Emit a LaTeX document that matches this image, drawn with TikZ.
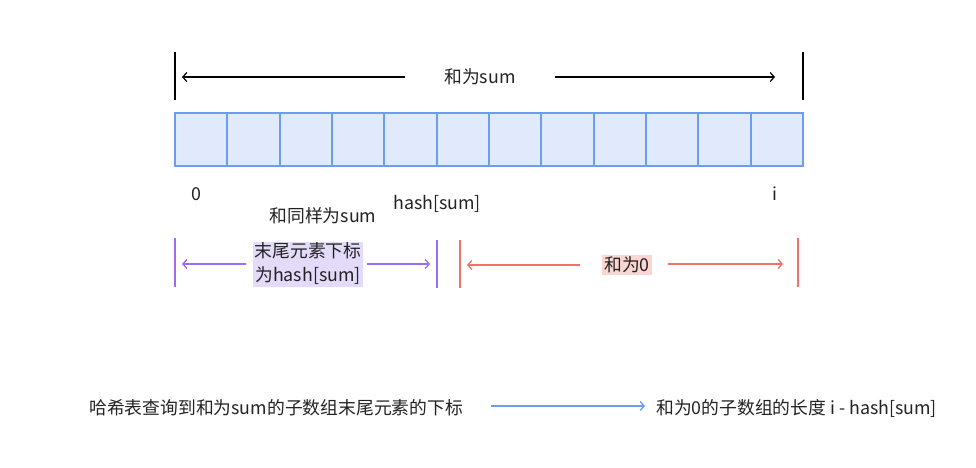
\documentclass[tikz,border=0pt]{standalone}
\usepackage{fontspec}
\setmainfont{Noto Sans CJK SC}
\usetikzlibrary{positioning,arrows.meta}
\definecolor{cellfill}{HTML}{E1E9FC}
\definecolor{celldraw}{HTML}{6E9CF3}
\definecolor{lilac}{HTML}{9C6CF2}
\definecolor{lilacfill}{HTML}{E4DAFA}
\definecolor{salmon}{HTML}{F0736B}
\definecolor{salmonfill}{HTML}{FAD6D2}
\definecolor{ink}{HTML}{222222}
\tikzset{
  cell/.style={draw=celldraw, fill=cellfill, line width=2pt, minimum width=52.33pt, minimum height=53pt, inner sep=0pt},
  label/.style={font=\fontsize{17.8}{24}\selectfont, text=ink, inner sep=1pt},
  tip/.style={-{Straight Barb[length=4pt,width=9pt]}}
}
\begin{document}
\begin{tikzpicture}[x=1pt, y=-1pt]
\useasboundingbox (0,0) rectangle (976,467);
% Array
\foreach \i in {0,...,11}
  \node[cell] (c\i) at ({201.17+52.33*\i},139.5) {};
% Top
\draw[black, line width=1.3pt] (175,52) -- (175,100);
\draw[black, line width=1.3pt] (803,52) -- (803,100);
\node[label] (total) at (480,77) {和为sum};
\coordinate (tl) at (405,77);
\coordinate (tle) at (182,77);
\coordinate (tr) at (555,77);
\coordinate (tre) at (775,77);
\draw[tip, line width=1.2pt] (tl) -- (tle);
\draw[tip, line width=1.2pt] (tr) -- (tre);
% Indices
\node[label] (zero) at (196,194) {0};
\node[label] (hash) at (437,204) {hash[sum]};
\node[label] (idx) at (775,194) {i};
\node[label] (same) at (323,216) {和同样为sum};
% Purple part
\draw[lilac, line width=1.3pt] (175,238) -- (175,287);
\draw[lilac, line width=1.3pt] (437,240) -- (437,288);
\node[label, fill=lilacfill, align=center, inner sep=1.5pt] (tail) at (308,264) {末尾元素下标\\为hash[sum]};
\coordinate (pl) at (182,264);
\coordinate (pr) at (430,264);
\draw[tip, lilac, line width=1.3pt] (tail.west |- pl) ++(-7,0) -- (pl);
\draw[tip, lilac, line width=1.3pt] (tail.east |- pr) ++(4,0) -- (pr);
% Red part
\draw[salmon, line width=1.3pt] (460,240) -- (460,288);
\draw[salmon, line width=1.3pt] (798,238) -- (798,287);
\node[label, fill=salmonfill, inner sep=2pt] (zerosum) at (627,265) {和为0};
\coordinate (rl) at (467,265);
\coordinate (rr) at (783,264);
\coordinate (rls) at (580,265);
\coordinate (rrs) at (668,264);
\draw[tip, salmon, line width=1.3pt] (rls) -- (rl);
\draw[tip, salmon, line width=1.3pt] (rrs) -- (rr);
% Bottom
\node[label, anchor=west] (query) at (88,408) {哈希表查询到和为sum的子数组末尾元素的下标};
\node[label, anchor=west] (length) at (655,408) {和为0的子数组的长度 i - hash[sum]};
\coordinate (ba) at (491,406);
\coordinate (bb) at (645,406);
\draw[tip, celldraw, line width=1.3pt] (ba) -- (bb);
\end{tikzpicture}
\end{document}
